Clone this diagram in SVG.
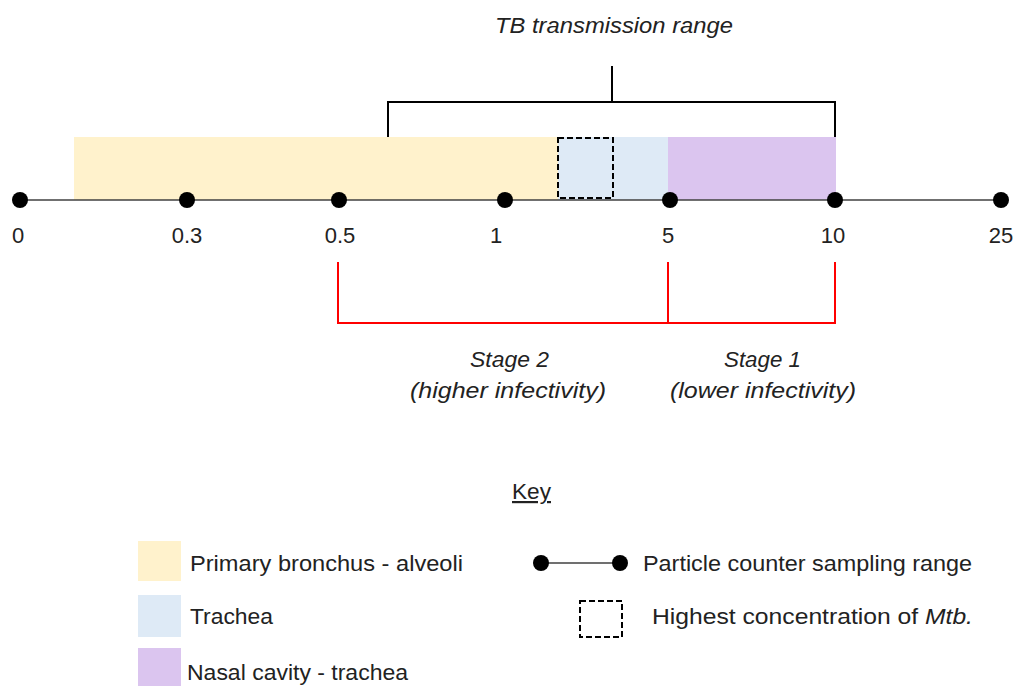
<svg xmlns="http://www.w3.org/2000/svg" width="1019" height="686" viewBox="0 0 1019 686">
  <style>
    text { font-family: "Liberation Sans", Arial, sans-serif; font-size: 22px; fill: #222; }
    .it { font-style: italic; }
    .mid { text-anchor: middle; }
    .axis { stroke: #404040; stroke-width: 1.5; fill: none; }
    .dot { fill: #000; }
    .brk { stroke: #000; stroke-width: 2; fill: none; }
    .red { stroke: #ff0000; stroke-width: 2; fill: none; }
    .dash { stroke: #000; stroke-width: 2; stroke-dasharray: 6 3; fill: none; }
    .yel { fill: #fff2cc; }
    .blu { fill: #deeaf6; }
    .pur { fill: #dbc5ef; }
  </style>

  <!-- deposition regions along the axis -->
  <g id="regions">
    <rect class="yel" x="74" y="137" width="484" height="63"/>
    <rect class="blu" x="558" y="137" width="110" height="63"/>
    <rect class="pur" x="668" y="137" width="168" height="63"/>
  </g>

  <!-- highest concentration box -->
  <g id="mtb-peak">
    <rect class="dash" x="558" y="138" width="55" height="60"/>
  </g>

  <!-- transmission range bracket -->
  <g id="tb-range">
    <path class="brk" d="M388 137 V102 H835 V137 M612 102 V66"/>
    <text class="it" x="495" y="33" textLength="238" lengthAdjust="spacingAndGlyphs">TB transmission range</text>
  </g>

  <!-- size axis with sampling points -->
  <g id="axis">
    <line class="axis" x1="20" y1="200" x2="1001" y2="200"/>
    <circle class="dot" cx="20" cy="200" r="8"/>
    <circle class="dot" cx="187" cy="200" r="8"/>
    <circle class="dot" cx="339" cy="200" r="8"/>
    <circle class="dot" cx="505" cy="200" r="8"/>
    <circle class="dot" cx="670" cy="200" r="8"/>
    <circle class="dot" cx="835" cy="200" r="8"/>
    <circle class="dot" cx="1001" cy="200" r="8"/>
    <text class="mid" x="18" y="243">0</text>
    <text class="mid" x="187" y="243">0.3</text>
    <text class="mid" x="340" y="243">0.5</text>
    <text class="mid" x="496" y="243">1</text>
    <text class="mid" x="668" y="243">5</text>
    <text class="mid" x="833" y="243">10</text>
    <text class="mid" x="1001" y="243">25</text>
  </g>

  <!-- infectivity stages -->
  <g id="stages">
    <path class="red" d="M338 262 V323 H835 V262 M668 262 V323"/>
    <text class="it" x="470" y="367" textLength="79" lengthAdjust="spacingAndGlyphs">Stage 2</text>
    <text class="it" x="410" y="398" textLength="196" lengthAdjust="spacingAndGlyphs">(higher infectivity)</text>
    <text class="it" x="724" y="367" textLength="77" lengthAdjust="spacingAndGlyphs">Stage 1</text>
    <text class="it" x="670" y="398" textLength="186" lengthAdjust="spacingAndGlyphs">(lower infectivity)</text>
  </g>

  <!-- key -->
  <g id="key">
    <text x="512" y="499" textLength="39" lengthAdjust="spacingAndGlyphs" text-decoration="underline">Key</text>
    <rect class="yel" x="138" y="541" width="43" height="40"/>
    <text x="190" y="571" textLength="273" lengthAdjust="spacingAndGlyphs">Primary bronchus - alveoli</text>
    <rect class="blu" x="138" y="595" width="43" height="42"/>
    <text x="190" y="624" textLength="83" lengthAdjust="spacingAndGlyphs">Trachea</text>
    <rect class="pur" x="138" y="648" width="43" height="38"/>
    <text x="187" y="680" textLength="221" lengthAdjust="spacingAndGlyphs">Nasal cavity - trachea</text>
    <line class="axis" x1="541" y1="563" x2="620" y2="563" stroke="#000"/>
    <circle class="dot" cx="541" cy="563" r="8"/>
    <circle class="dot" cx="620" cy="563" r="8"/>
    <text x="643" y="571" textLength="329" lengthAdjust="spacingAndGlyphs">Particle counter sampling range</text>
    <rect class="dash" x="580" y="601" width="42" height="36"/>
    <text x="652" y="624" textLength="321" lengthAdjust="spacingAndGlyphs">Highest concentration of <tspan class="it">Mtb.</tspan></text>
  </g>
</svg>
